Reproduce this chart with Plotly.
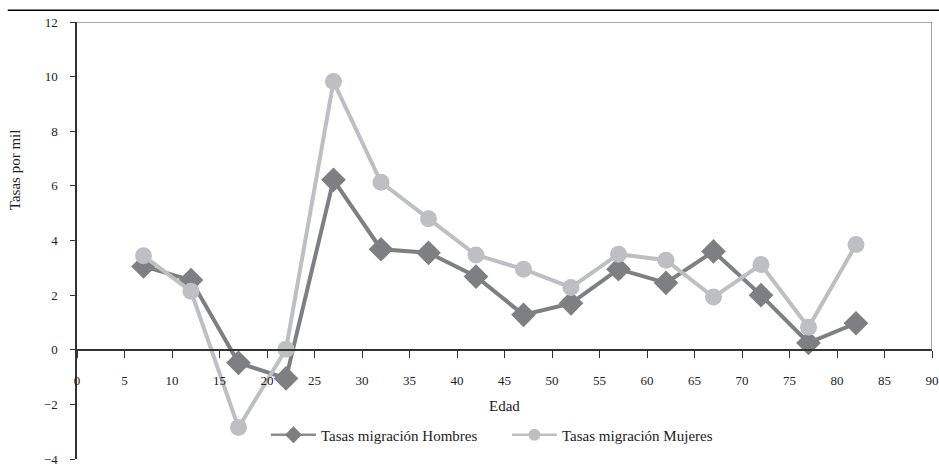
import plotly.graph_objects as go

edad = [7, 12, 17, 22, 27, 32, 37, 42, 47, 52, 57, 62, 67, 72, 77, 82]
hombres = [3.05, 2.55, -0.48, -1.05, 6.22, 3.68, 3.55, 2.68, 1.28, 1.7, 2.95, 2.45, 3.6, 2.0, 0.25, 0.97]
mujeres = [3.44, 2.14, -2.85, 0.02, 9.82, 6.13, 4.8, 3.47, 2.95, 2.28, 3.5, 3.28, 1.93, 3.12, 0.82, 3.85]

x_ticks = list(range(0, 95, 5))
y_ticks = list(range(-4, 14, 2))
y_labels = [str(v).replace("-", "\u2212") for v in y_ticks]

FONT = "Liberation Serif, DejaVu Serif, serif"
C_H = "#7e7f83"
C_M = "#bebfc3"
NAME_H = "Tasas migración Hombres"
NAME_M = "Tasas migración Mujeres"

fig = go.Figure()
fig.add_trace(go.Scatter(
    x=edad, y=hombres, mode="lines+markers", name=NAME_H, showlegend=False,
    legendgroup="h", line=dict(color=C_H, width=4),
    marker=dict(symbol="diamond", size=19, color=C_H),
))
fig.add_trace(go.Scatter(
    x=edad, y=mujeres, mode="lines+markers", name=NAME_M, showlegend=False,
    legendgroup="m", line=dict(color=C_M, width=4),
    marker=dict(symbol="circle", size=17, color=C_M),
))
# legend entries (thin sample lines, as in the reference)
fig.add_trace(go.Scatter(
    x=[None], y=[None], mode="lines+markers", name=NAME_H, legendgroup="h",
    line=dict(color="#8c8c90", width=2.5),
    marker=dict(symbol="diamond", size=13, color=C_H),
))
fig.add_trace(go.Scatter(
    x=[None], y=[None], mode="lines+markers", name=NAME_M, legendgroup="m",
    line=dict(color=C_M, width=2.5),
    marker=dict(symbol="circle", size=12, color=C_M),
))

# plot-area top and right border
fig.add_shape(type="line", xref="x", yref="y", x0=0, x1=90, y0=12, y1=12,
              line=dict(color="#8a8a8a", width=1.5))
fig.add_shape(type="line", xref="x", yref="y", x0=90, x1=90, y0=12, y1=0,
              line=dict(color="#8a8a8a", width=1.5))
# top rule
fig.add_shape(type="line", xref="paper", yref="paper", x0=-0.081, x1=1.01,
              y0=1.027, y1=1.027, line=dict(color="black", width=1.5))

fig.add_annotation(text="Tasas por mil", xref="paper", yref="paper",
                   x=-0.0725, y=0.661, textangle=-90, showarrow=False,
                   xanchor="center", yanchor="middle",
                   font=dict(family=FONT, size=15, color="#222"))
fig.add_annotation(text="Edad", xref="x", yref="y", x=45, y=-2.05,
                   showarrow=False, font=dict(family=FONT, size=15, color="#222"))

fig.update_layout(
    width=939, height=466,
    margin=dict(l=77, r=7, t=22, b=7, autoexpand=False),
    paper_bgcolor="white", plot_bgcolor="white",
    font=dict(family=FONT, size=13, color="#222"),
    showlegend=True,
    legend=dict(orientation="h", x=0.221, y=0.055, xanchor="left", yanchor="middle",
                font=dict(family=FONT, size=15, color="#222"),
                itemwidth=45, bgcolor="rgba(0,0,0,0)", tracegroupgap=0,
                entrywidthmode="pixels", entrywidth=181),
    xaxis=dict(range=[0, 90], tickvals=x_ticks, ticktext=[str(v) for v in x_ticks],
               anchor="free", position=0.25, showline=True, linecolor="#333",
               linewidth=1.5, ticks="outside", ticklen=7, tickcolor="#333",
               showgrid=False, zeroline=False, ticklabelstandoff=12, automargin=False,
               ticklabeloverflow="allow",
               tickfont=dict(family=FONT, size=13)),
    yaxis=dict(range=[-4, 12], tickvals=y_ticks, ticktext=y_labels,
               showline=True, linecolor="#333", linewidth=1.5, ticks="outside",
               ticklen=5, tickcolor="#333", showgrid=False, zeroline=False, automargin=False,
               ticklabeloverflow="allow",
               ticklabelstandoff=10, tickfont=dict(family=FONT, size=13)),
)

fig.write_html("out.html", config={"displayModeBar": False},
               post_script="document.body.style.margin='0';document.body.style.overflow='hidden';")
